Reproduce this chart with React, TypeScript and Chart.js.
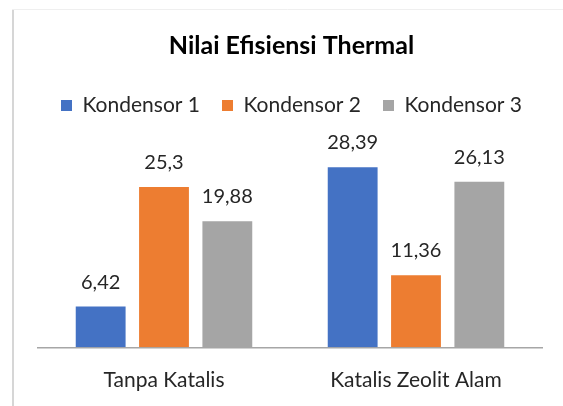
import React, { useEffect, useRef } from 'react';
import { Chart, registerables } from 'chart.js';

Chart.register(...registerables);

const categories = ['Tanpa Katalis', 'Katalis Zeolit Alam'];
const seriesNames = ['Kondensor 1', 'Kondensor 2', 'Kondensor 3'];
const kondensor1 = [6.42, 28.39];
const kondensor2 = [25.3, 11.36];
const kondensor3 = [19.88, 26.13];
const seriesColors = ['#4472C4', '#ED7D31', '#A5A5A5'];
const yMin = 0;
const yMax = 30;
const titleText = 'Nilai Efisiensi Thermal';

const FONT = 'Lato';
const TEXT_COLOR = '#262626';
const PLOT_TOP = 157.1;

const framePlugin = {
  id: 'frame',
  beforeDraw(chart: any) {
    const ctx = chart.ctx;
    ctx.save();
    ctx.fillStyle = '#ffffff';
    ctx.fillRect(0, 0, chart.width, chart.height);
    ctx.strokeStyle = '#d6d6d6';
    ctx.lineWidth = 2;
    ctx.beginPath();
    ctx.moveTo(13, 9);
    ctx.lineTo(13, chart.height);
    ctx.stroke();
    ctx.strokeStyle = '#efefef';
    ctx.lineWidth = 1;
    ctx.beginPath();
    ctx.moveTo(12, 9.5);
    ctx.lineTo(chart.width, 9.5);
    ctx.stroke();
    ctx.restore();
  },
};

const dataLabelPlugin = {
  id: 'dataLabels',
  afterDatasetsDraw(chart: any) {
    const ctx = chart.ctx;
    ctx.save();
    ctx.font = `20px ${FONT}`;
    ctx.fillStyle = TEXT_COLOR;
    ctx.textAlign = 'center';
    ctx.textBaseline = 'alphabetic';
    chart.data.datasets.forEach((ds: any, i: number) => {
      const meta = chart.getDatasetMeta(i);
      meta.data.forEach((el: any, j: number) => {
        const v = ds.data[j];
        ctx.fillText(String(v).replace('.', ','), el.x, el.y - 18);
      });
    });
    ctx.restore();
  },
};

export default function App() {
  const ref = useRef<HTMLCanvasElement | null>(null);

  useEffect(() => {
    if (!ref.current) return;
    const series = [kondensor1, kondensor2, kondensor3];
    const chart = new Chart(ref.current, {
      type: 'bar',
      data: {
        labels: categories,
        datasets: series.map((d, i) => ({
          label: seriesNames[i],
          data: d,
          backgroundColor: seriesColors[i],
          borderWidth: 0,
          categoryPercentage: 0.754,
          barPercentage: 0.787,
          xAxisID: 'x',
          yAxisID: 'y',
        })),
      },
      options: {
        responsive: false,
        animation: false,
        layout: { padding: { left: 20, right: 0, top: 0, bottom: 0 } },
        plugins: {
          title: {
            display: true,
            text: titleText,
            color: '#000000',
            font: { family: FONT, size: 25, weight: 'bold' },
            padding: { top: 31, bottom: 12 },
          },
          legend: {
            display: true,
            position: 'top',
            labels: {
              boxWidth: 11,
              boxHeight: 11,
              padding: 22,
              color: TEXT_COLOR,
              font: { family: FONT, size: 21 },
            },
          },
          tooltip: { enabled: false },
        },
        scales: {
          x: {
            type: 'category',
            position: 'bottom',
            grid: { display: false, drawTicks: false },
            border: { display: true, color: '#a6a6a6', width: 1.5 },
            ticks: { color: TEXT_COLOR, font: { family: FONT, size: 21 }, padding: 20 },
            afterFit: (s: any) => {
              s.height = 58.7;
            },
          },
          y: {
            type: 'linear',
            position: 'left',
            min: yMin,
            max: yMax,
            grid: { display: false },
            border: { display: false },
            ticks: { display: false },
            afterFit: (s: any) => {
              s.width = 18;
            },
          },
          yRight: {
            type: 'linear',
            position: 'right',
            grid: { display: false },
            border: { display: false },
            ticks: { display: false },
            afterFit: (s: any) => {
              s.width = 21;
            },
          },
          xTop: {
            type: 'linear',
            position: 'top',
            grid: { display: false },
            border: { display: false },
            ticks: { display: false },
            afterFit: (s: any) => {
              const c = s.chart;
              const used = (c.titleBlock ? c.titleBlock.height : 0) + (c.legend ? c.legend.height : 0);
              s.height = Math.max(0, PLOT_TOP - used);
            },
          },
        },
      } as any,
      plugins: [framePlugin, dataLabelPlugin],
    });
    return () => chart.destroy();
  }, []);

  return (
    <div style={{ position: 'absolute', left: 0, top: 0, width: 563, height: 406 }}>
      <canvas ref={ref} width={563} height={406} style={{ display: 'block', width: 563, height: 406 }} />
    </div>
  );
}
